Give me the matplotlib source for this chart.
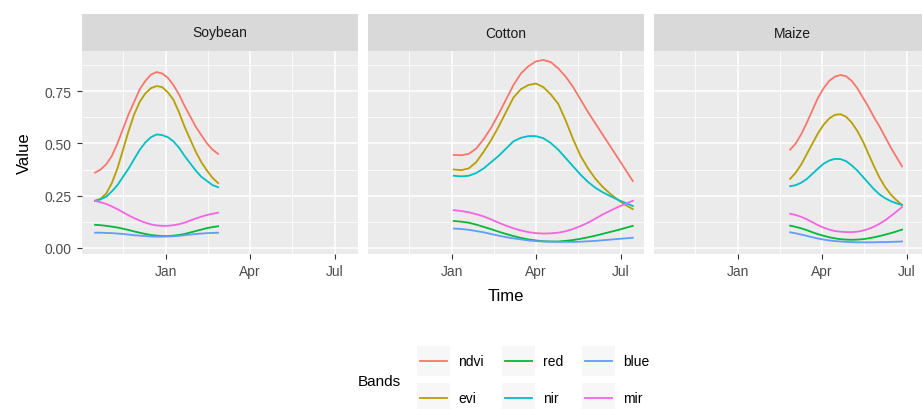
import matplotlib
matplotlib.use("Agg")
import matplotlib.pyplot as plt
import matplotlib.dates as mdates
import pandas as pd
from matplotlib.patches import Rectangle
from matplotlib.lines import Line2D

plt.rcParams['font.family'] = ['Liberation Sans', 'DejaVu Sans']

# acquisition dates per crop
soy_dates = pd.date_range("2017-10-17", "2018-02-26", freq="6D")
cot_dates = pd.date_range("2018-01-03", "2018-07-14", freq="8D")
mai_dates = pd.date_range("2018-02-26", "2018-06-26", freq="6D")

# band values per crop
soy_ndvi = [0.36, 0.375, 0.40, 0.44, 0.50, 0.57, 0.64, 0.70, 0.76, 0.80, 0.83, 0.842,
            0.835, 0.815, 0.78, 0.735, 0.68, 0.63, 0.58, 0.54, 0.50, 0.47, 0.45]
soy_evi = [0.225, 0.235, 0.26, 0.31, 0.38, 0.47, 0.56, 0.64, 0.70, 0.74, 0.765, 0.775,
           0.77, 0.745, 0.71, 0.65, 0.58, 0.52, 0.46, 0.41, 0.37, 0.335, 0.31]
soy_red = [0.11, 0.108, 0.105, 0.101, 0.097, 0.091, 0.085, 0.078, 0.072, 0.066, 0.061, 0.058,
           0.056, 0.056, 0.058, 0.061, 0.066, 0.073, 0.08, 0.087, 0.094, 0.099, 0.103]
soy_nir = [0.225, 0.232, 0.245, 0.27, 0.30, 0.34, 0.38, 0.425, 0.47, 0.505, 0.53, 0.543,
           0.54, 0.53, 0.51, 0.48, 0.44, 0.405, 0.37, 0.34, 0.32, 0.30, 0.29]
soy_blue = [0.072, 0.072, 0.071, 0.07, 0.068, 0.066, 0.063, 0.06, 0.058, 0.056, 0.054, 0.053,
            0.053, 0.054, 0.055, 0.057, 0.06, 0.063, 0.066, 0.068, 0.07, 0.071, 0.072]
soy_mir = [0.225, 0.218, 0.21, 0.198, 0.185, 0.17, 0.155, 0.142, 0.13, 0.12, 0.112, 0.107,
           0.105, 0.105, 0.108, 0.113, 0.12, 0.13, 0.14, 0.149, 0.157, 0.163, 0.168]

cot_ndvi = [0.445, 0.443, 0.45, 0.475, 0.52, 0.575, 0.64, 0.71, 0.78, 0.835, 0.87, 0.893, 0.90,
            0.89, 0.86, 0.82, 0.77, 0.71, 0.65, 0.595, 0.54, 0.485, 0.43, 0.375, 0.32]
cot_evi = [0.375, 0.372, 0.38, 0.41, 0.46, 0.515, 0.58, 0.65, 0.72, 0.76, 0.78, 0.787, 0.77,
           0.735, 0.69, 0.61, 0.52, 0.44, 0.38, 0.33, 0.29, 0.258, 0.23, 0.205, 0.185]
cot_red = [0.128, 0.125, 0.12, 0.111, 0.10, 0.089, 0.077, 0.066, 0.056, 0.047, 0.04, 0.035, 0.031,
           0.03, 0.03, 0.033, 0.037, 0.043, 0.05, 0.058, 0.067, 0.076, 0.085, 0.095, 0.105]
cot_nir = [0.345, 0.342, 0.345, 0.358, 0.38, 0.41, 0.44, 0.475, 0.51, 0.527, 0.535, 0.535, 0.525,
           0.502, 0.47, 0.43, 0.39, 0.35, 0.315, 0.287, 0.265, 0.247, 0.23, 0.215, 0.20]
cot_blue = [0.092, 0.09, 0.086, 0.08, 0.074, 0.066, 0.058, 0.051, 0.045, 0.04, 0.035, 0.032, 0.03,
            0.029, 0.028, 0.028, 0.028, 0.029, 0.031, 0.033, 0.036, 0.039, 0.042, 0.045, 0.048]
cot_mir = [0.18, 0.176, 0.17, 0.161, 0.15, 0.136, 0.12, 0.106, 0.093, 0.083, 0.075, 0.07, 0.068,
           0.069, 0.072, 0.079, 0.09, 0.104, 0.12, 0.14, 0.16, 0.178, 0.195, 0.21, 0.225]

mai_ndvi = [0.47, 0.50, 0.545, 0.60, 0.66, 0.72, 0.765, 0.80, 0.82, 0.828, 0.822,
            0.80, 0.765, 0.72, 0.675, 0.625, 0.58, 0.53, 0.48, 0.435, 0.39]
mai_evi = [0.33, 0.36, 0.40, 0.45, 0.50, 0.55, 0.59, 0.62, 0.637, 0.64, 0.628,
           0.60, 0.56, 0.51, 0.45, 0.39, 0.335, 0.29, 0.255, 0.228, 0.205]
mai_red = [0.106, 0.10, 0.093, 0.084, 0.074, 0.065, 0.057, 0.05, 0.045, 0.041, 0.039,
           0.038, 0.039, 0.041, 0.045, 0.05, 0.056, 0.063, 0.07, 0.078, 0.087]
mai_nir = [0.295, 0.30, 0.312, 0.33, 0.355, 0.38, 0.403, 0.418, 0.426, 0.425, 0.415,
           0.395, 0.37, 0.34, 0.31, 0.28, 0.255, 0.237, 0.223, 0.213, 0.205]
mai_blue = [0.074, 0.069, 0.063, 0.057, 0.05, 0.044, 0.039, 0.035, 0.032, 0.03, 0.028,
            0.027, 0.026, 0.026, 0.026, 0.026, 0.027, 0.027, 0.028, 0.029, 0.03]
mai_mir = [0.163, 0.157, 0.148, 0.136, 0.122, 0.108, 0.096, 0.087, 0.08, 0.077, 0.075,
           0.075, 0.077, 0.082, 0.09, 0.101, 0.115, 0.132, 0.152, 0.173, 0.195]

crops = ["Soybean", "Cotton", "Maize"]
bands = ["ndvi", "evi", "red", "nir", "blue", "mir"]
colors = ["#F8766D", "#B79F00", "#00BA38", "#00BFC4", "#619CFF", "#F564E3"]

series = {
    "Soybean": (soy_dates, [soy_ndvi, soy_evi, soy_red, soy_nir, soy_blue, soy_mir]),
    "Cotton": (cot_dates, [cot_ndvi, cot_evi, cot_red, cot_nir, cot_blue, cot_mir]),
    "Maize": (mai_dates, [mai_ndvi, mai_evi, mai_red, mai_nir, mai_blue, mai_mir]),
}

W, H = 922, 410
fig = plt.figure(figsize=(W / 100, H / 100), dpi=100)


def px(x0, y0, w, h):
    # pixel box (top-left origin) -> figure fraction
    return [x0 / W, 1 - (y0 + h) / H, w / W, h / H]


major = pd.to_datetime(["2018-01-01", "2018-04-01", "2018-07-01"])
minor = pd.to_datetime(["2017-11-16", "2018-02-15", "2018-05-16"])
xmin, xmax = pd.Timestamp("2017-10-03"), pd.Timestamp("2018-07-26")

panel_w = 276
for i, crop in enumerate(crops):
    x0 = 82 + i * (panel_w + 10)
    ax = fig.add_axes(px(x0, 52, panel_w, 203))
    ax.set_facecolor("#EBEBEB")
    for s in ax.spines.values():
        s.set_visible(False)
    dates, vals = series[crop]
    for v, c in zip(vals, colors):
        ax.plot(dates, v, color=c, lw=1.3, zorder=3)
    ax.set_xlim(xmin, xmax)
    ax.set_ylim(-0.03, 0.943)
    ax.set_xticks(major)
    ax.set_xticks(minor, minor=True)
    ax.xaxis.set_major_formatter(mdates.DateFormatter("%b"))
    ax.set_yticks([0, 0.25, 0.5, 0.75])
    ax.set_yticks([0.125, 0.375, 0.625, 0.875], minor=True)
    ax.grid(True, which="major", color="white", lw=1.1)
    ax.grid(True, which="minor", color="white", lw=0.55)
    ax.set_axisbelow(True)
    ax.tick_params(which="minor", length=0)
    ax.tick_params(which="major", length=3.5, width=0.8, color="#333333",
                   labelcolor="#4D4D4D", labelsize=10, pad=4)
    if i == 0:
        ax.set_yticklabels(["0.00", "0.25", "0.50", "0.75"])
        ax.set_ylabel("Value", fontsize=12, labelpad=9)
    else:
        ax.tick_params(axis="y", which="both", left=False, labelleft=False)
    if i == 1:
        ax.set_xlabel("Time", fontsize=12, labelpad=7)

    strip = fig.add_axes(px(x0, 15, panel_w, 37))
    strip.set_facecolor("#D9D9D9")
    strip.set_xticks([])
    strip.set_yticks([])
    for s in strip.spines.values():
        s.set_visible(False)
    strip.text(0.5, 0.5, crop, ha="center", va="center", fontsize=10, color="#1A1A1A",
               transform=strip.transAxes)

# legend drawn in pixel space
lg = fig.add_axes([0, 0, 1, 1], facecolor="none")
lg.set_xlim(0, W)
lg.set_ylim(H, 0)
lg.axis("off")
lg.text(358, 382, "Bands", fontsize=11, va="center", ha="left", color="black")
col_x = [417, 502, 582]
row_y = [362, 399]
for k, (b, c) in enumerate(zip(bands, colors)):
    cx, cy = col_x[k // 2], row_y[k % 2]
    lg.add_patch(Rectangle((cx, cy - 15), 33, 30, facecolor="#F7F7F7", edgecolor="none"))
    lg.add_line(Line2D([cx + 3, cx + 30], [cy, cy], color=c, lw=1.3))
    lg.text(cx + 41, cy, b, fontsize=10, va="center", ha="left", color="black")

fig.savefig("out.png", dpi=100)
